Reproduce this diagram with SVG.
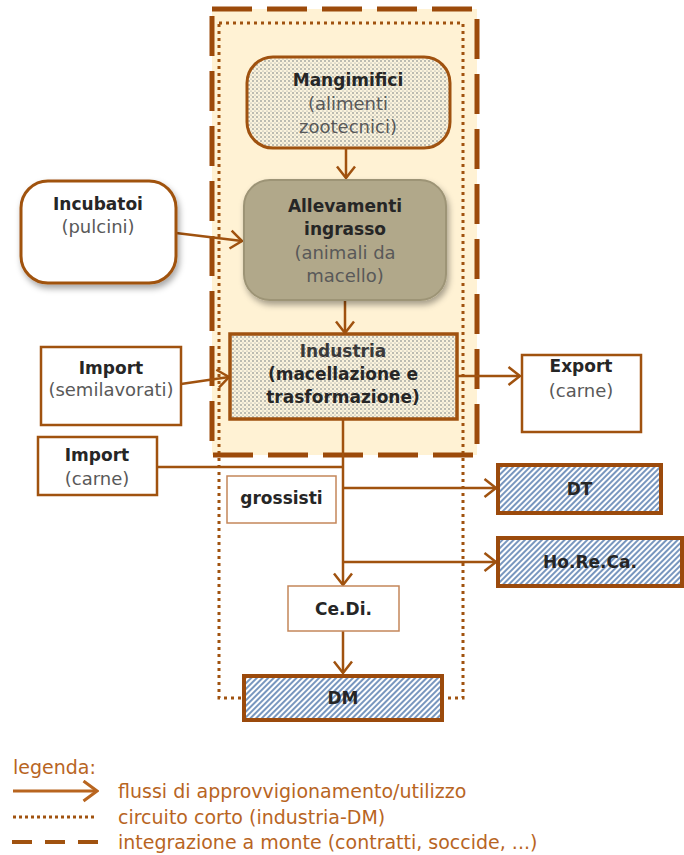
<svg xmlns="http://www.w3.org/2000/svg" width="684" height="855" viewBox="0 0 684 855">
  <style>
    .b { font-family: "DejaVu Sans", "Liberation Sans", sans-serif; font-weight: bold; font-size: 17px; fill: #262626; text-anchor: middle; }
    .r { font-family: "DejaVu Sans", "Liberation Sans", sans-serif; font-size: 18px; fill: #595959; text-anchor: middle; }
    .lg { font-family: "DejaVu Sans", "Liberation Sans", sans-serif; font-size: 19px; fill: #B8651F; }
    .box { fill: #ffffff; stroke: #A0520F; stroke-width: 2.5; }
    .flow { fill: none; stroke: #A0520F; stroke-width: 2.5; }
    .arrow { marker-end: url(#arr); }
    .hatchbox { fill: url(#hatch); stroke: #9B4A0C; stroke-width: 4; }
  </style>
  <defs>
    <pattern id="dots" width="4" height="4" patternUnits="userSpaceOnUse">
      <rect width="4" height="4" fill="#FBF3DC"/>
      <circle cx="1" cy="1" r="0.75" fill="#5E6B74"/>
      <circle cx="3" cy="3" r="0.6" fill="#8A929A"/>
    </pattern>
    <pattern id="hatch" width="4" height="4" patternUnits="userSpaceOnUse" patternTransform="rotate(45)">
      <rect width="4" height="4" fill="#ffffff"/>
      <line x1="1" y1="0" x2="1" y2="4" stroke="#3F6AA3" stroke-width="1.4"/>
    </pattern>
    <marker id="arr" markerWidth="15" markerHeight="21" refX="13" refY="10.5" orient="auto" markerUnits="userSpaceOnUse">
      <path d="M1.5,1.5 L13,10.5 L1.5,19.5" fill="none" stroke="#A0520F" stroke-width="2.5"/>
    </marker>
    <marker id="arrLg" markerWidth="17" markerHeight="23" refX="15" refY="11.5" orient="auto" markerUnits="userSpaceOnUse">
      <path d="M1.5,1.5 L15,11.5 L1.5,21.5" fill="none" stroke="#B8651F" stroke-width="3"/>
    </marker>
    <filter id="shadow" x="-20%" y="-20%" width="140%" height="150%">
      <feDropShadow dx="2" dy="4" stdDeviation="3" flood-color="#000000" flood-opacity="0.35"/>
    </filter>
  </defs>

  <!-- background groups (integrazione a monte / circuito corto) -->
  <g id="integrazione-area">
    <rect x="212" y="9" width="265" height="446" fill="#FFF2D4"/>
  </g>
  <g id="circuito-corto">
    <rect x="219" y="23" width="244" height="675" fill="none" stroke="#A0520F" stroke-width="3" stroke-dasharray="3 4"/>
  </g>
  <g id="integrazione-border">
    <rect x="212" y="9" width="265" height="446" fill="none" stroke="#9C4A0A" stroke-width="5" stroke-dasharray="40 15"/>
  </g>

  <!-- connectors -->
  <g id="connectors">
    <line class="flow arrow" x1="346" y1="148" x2="346" y2="178"/>
    <line class="flow arrow" x1="176" y1="233" x2="242" y2="241"/>
    <line class="flow arrow" x1="345" y1="301" x2="345" y2="333"/>
    <line class="flow arrow" x1="181" y1="384" x2="229" y2="377"/>
    <line class="flow arrow" x1="457" y1="376" x2="520" y2="376"/>
    <line class="flow" x1="157" y1="467" x2="343" y2="467"/>
    <line class="flow arrow" x1="343" y1="419" x2="343" y2="585"/>
    <line class="flow arrow" x1="343" y1="488" x2="496" y2="488"/>
    <line class="flow arrow" x1="343" y1="562" x2="496" y2="562"/>
    <line class="flow arrow" x1="343" y1="631" x2="343" y2="673"/>
  </g>

  <g id="mangimifici">
    <rect x="247" y="57" width="203" height="91" rx="26" fill="url(#dots)" stroke="#A0520F" stroke-width="3"/>
    <text class="b" x="348" y="86">Mangimifici</text>
    <text class="r" x="348" y="110">(alimenti</text>
    <text class="r" x="348" y="133">zootecnici)</text>
  </g>

  <g id="incubatoi">
    <rect x="21" y="181" width="155" height="102" rx="27" fill="#ffffff" stroke="#A0520F" stroke-width="3" filter="url(#shadow)"/>
    <text class="b" x="98" y="210">Incubatoi</text>
    <text class="r" x="98" y="233">(pulcini)</text>
  </g>

  <g id="allevamenti">
    <rect x="244" y="180" width="202" height="120" rx="26" fill="#B1A88A" stroke="#9D9476" stroke-width="2" filter="url(#shadow)"/>
    <text class="b" x="345" y="212">Allevamenti</text>
    <text class="b" x="345" y="235">ingrasso</text>
    <text class="r" x="345" y="259">(animali da</text>
    <text class="r" x="345" y="282">macello)</text>
  </g>

  <g id="industria">
    <rect x="230" y="334" width="227" height="85" fill="url(#dots)" stroke="#A0520F" stroke-width="3.5"/>
    <text class="b" x="343" y="357" style="fill:#3a3a3a">Industria</text>
    <text class="b" x="343" y="380">(macellazione e</text>
    <text class="b" x="343" y="403">trasformazione)</text>
  </g>

  <g id="import-semilavorati">
    <rect class="box" x="41" y="347" width="140" height="78"/>
    <text class="b" x="111" y="374">Import</text>
    <text class="r" x="111" y="396">(semilavorati)</text>
  </g>

  <g id="export">
    <rect class="box" x="522" y="355" width="119" height="77"/>
    <text class="b" x="581" y="372">Export</text>
    <text class="r" x="581" y="397">(carne)</text>
  </g>

  <g id="import-carne">
    <rect class="box" x="38" y="437" width="119" height="58"/>
    <text class="b" x="97" y="461">Import</text>
    <text class="r" x="97" y="485">(carne)</text>
  </g>

  <g id="grossisti">
    <rect x="227" y="476" width="109" height="47" fill="#ffffff" stroke="#C4865A" stroke-width="1.5"/>
    <text class="b" x="281.5" y="504">grossisti</text>
  </g>

  <g id="dt">
    <rect class="hatchbox" x="498" y="465" width="163" height="48"/>
    <text class="b" x="579.5" y="495">DT</text>
  </g>

  <g id="horeca">
    <rect class="hatchbox" x="498" y="538" width="184" height="48"/>
    <text class="b" x="590" y="568">Ho.Re.Ca.</text>
  </g>

  <g id="cedi">
    <rect x="288" y="586" width="111" height="45" fill="#ffffff" stroke="#C4865A" stroke-width="1.5"/>
    <text class="b" x="343.5" y="615">Ce.Di.</text>
  </g>

  <g id="dm">
    <rect class="hatchbox" x="244" y="676" width="198" height="44"/>
    <text class="b" x="343" y="704">DM</text>
  </g>

  <g id="legenda">
    <text class="lg" x="13" y="774">legenda:</text>
    <line x1="13" y1="791" x2="97" y2="791" stroke="#B8651F" stroke-width="3" marker-end="url(#arrLg)"/>
    <text class="lg" x="118" y="798">flussi di approvvigionamento/utilizzo</text>
    <line x1="13" y1="817" x2="97" y2="817" stroke="#A0520F" stroke-width="3" stroke-dasharray="3 3"/>
    <text class="lg" x="118" y="824">circuito corto (industria-DM)</text>
    <line x1="12" y1="842" x2="98" y2="842" stroke="#A0520F" stroke-width="4" stroke-dasharray="20 13"/>
    <text class="lg" x="118" y="849">integrazione a monte (contratti, soccide, ...)</text>
  </g>
</svg>
